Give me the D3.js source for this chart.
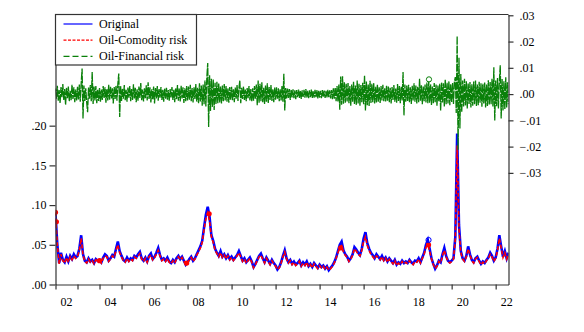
<!DOCTYPE html>
<html>
<head>
<meta charset="utf-8">
<script src="https://cdn.jsdelivr.net/npm/d3@7"></script>
<style>
  body { margin: 0; background: #fff; }
  text { font-family: "Liberation Serif", "Times New Roman", serif; font-size: 12px; fill: #000; }
  .axis path, .axis line { stroke: #333; stroke-width: 1.2; }
</style>
</head>
<body>
<div id="chart-div"></div>
<script>
// monthly values, starting Jan 2002
const startYear = 2002;
const endYear = 2022.583;

const original = [
  0.089, 0.05, 0.027, 0.04, 0.031, 0.028, 0.035, 0.029, 0.036, 0.032, 0.038, 0.034, // 2002
  0.036, 0.045, 0.062, 0.038, 0.03, 0.028, 0.033, 0.029, 0.031, 0.027, 0.032, 0.03,  // 2003
  0.031, 0.028, 0.034, 0.038, 0.036, 0.03, 0.033, 0.037, 0.035, 0.045, 0.054, 0.042, // 2004
  0.036, 0.031, 0.029, 0.034, 0.03, 0.033, 0.031, 0.036, 0.034, 0.038, 0.041, 0.033, // 2005
  0.03, 0.034, 0.029, 0.036, 0.039, 0.032, 0.035, 0.04, 0.046, 0.037, 0.031, 0.033,  // 2006
  0.03, 0.034, 0.029, 0.027, 0.031, 0.028, 0.033, 0.036, 0.032, 0.035, 0.03, 0.025,  // 2007
  0.028, 0.032, 0.035, 0.03, 0.033, 0.038, 0.043, 0.048, 0.055, 0.072, 0.088, 0.098, // 2008
  0.085, 0.062, 0.055, 0.045, 0.04, 0.036, 0.042, 0.035, 0.038, 0.033, 0.037, 0.032, // 2009
  0.035, 0.031, 0.034, 0.037, 0.042, 0.036, 0.03, 0.033, 0.028, 0.031, 0.034, 0.029, // 2010
  0.022, 0.026, 0.031, 0.036, 0.039, 0.033, 0.028, 0.034, 0.03, 0.026, 0.031, 0.027, // 2011
  0.024, 0.019, 0.022, 0.028, 0.036, 0.043, 0.033, 0.028, 0.031, 0.026, 0.029, 0.025, // 2012
  0.027, 0.03, 0.024, 0.028, 0.025, 0.029, 0.023, 0.026, 0.022, 0.027, 0.024, 0.021, // 2013
  0.025, 0.022, 0.024, 0.02, 0.023, 0.018, 0.021, 0.024, 0.028, 0.034, 0.042, 0.05,  // 2014
  0.054, 0.043, 0.038, 0.035, 0.03, 0.033, 0.038, 0.047, 0.044, 0.04, 0.037, 0.045,  // 2015
  0.058, 0.066, 0.052, 0.045, 0.04, 0.037, 0.033, 0.038, 0.035, 0.032, 0.036, 0.031, // 2016
  0.034, 0.029, 0.033, 0.03, 0.027, 0.031, 0.025, 0.028, 0.026, 0.03, 0.027, 0.029,  // 2017
  0.027, 0.031, 0.028, 0.026, 0.03, 0.029, 0.033, 0.028, 0.034, 0.04, 0.05, 0.056,   // 2018
  0.045, 0.033, 0.026, 0.02, 0.024, 0.03, 0.028, 0.038, 0.046, 0.036, 0.03, 0.028,   // 2019
  0.03, 0.033, 0.06, 0.19, 0.075, 0.042, 0.033, 0.03, 0.036, 0.048, 0.038, 0.031,    // 2020
  0.028, 0.033, 0.035, 0.03, 0.026, 0.029, 0.027, 0.031, 0.034, 0.04, 0.036, 0.03,   // 2021
  0.034, 0.045, 0.062, 0.048, 0.035, 0.042, 0.033, 0.04                              // 2022
];

const commodityRisk = [
  0.091, 0.05, 0.026, 0.038, 0.03, 0.027, 0.034, 0.028, 0.035, 0.031, 0.036, 0.033,
  0.035, 0.043, 0.058, 0.037, 0.029, 0.027, 0.032, 0.028, 0.03, 0.026, 0.031, 0.029,
  0.03, 0.027, 0.033, 0.036, 0.035, 0.029, 0.032, 0.036, 0.034, 0.043, 0.05, 0.04,
  0.035, 0.03, 0.028, 0.033, 0.029, 0.032, 0.03, 0.035, 0.033, 0.036, 0.039, 0.032,
  0.029, 0.033, 0.028, 0.035, 0.037, 0.031, 0.034, 0.038, 0.043, 0.036, 0.03, 0.032,
  0.029, 0.033, 0.028, 0.026, 0.03, 0.027, 0.032, 0.035, 0.031, 0.034, 0.029, 0.025,
  0.027, 0.031, 0.034, 0.029, 0.032, 0.037, 0.041, 0.046, 0.053, 0.069, 0.083, 0.09,
  0.08, 0.06, 0.053, 0.043, 0.039, 0.035, 0.04, 0.034, 0.037, 0.032, 0.036, 0.031,
  0.034, 0.03, 0.033, 0.036, 0.04, 0.035, 0.029, 0.032, 0.027, 0.03, 0.033, 0.028,
  0.021, 0.025, 0.03, 0.035, 0.037, 0.032, 0.027, 0.033, 0.029, 0.025, 0.03, 0.026,
  0.023, 0.019, 0.021, 0.027, 0.035, 0.041, 0.032, 0.027, 0.03, 0.025, 0.028, 0.024,
  0.026, 0.029, 0.023, 0.027, 0.024, 0.028, 0.022, 0.025, 0.021, 0.026, 0.023, 0.02,
  0.024, 0.021, 0.023, 0.019, 0.022, 0.018, 0.02, 0.023, 0.027, 0.033, 0.04, 0.047,
  0.049, 0.041, 0.037, 0.034, 0.029, 0.032, 0.037, 0.045, 0.042, 0.038, 0.036, 0.043,
  0.054, 0.06, 0.049, 0.043, 0.038, 0.035, 0.032, 0.036, 0.034, 0.031, 0.035, 0.03,
  0.033, 0.028, 0.032, 0.029, 0.026, 0.03, 0.024, 0.027, 0.025, 0.029, 0.026, 0.028,
  0.026, 0.03, 0.027, 0.025, 0.029, 0.028, 0.032, 0.027, 0.033, 0.038, 0.047, 0.05,
  0.042, 0.032, 0.025, 0.02, 0.023, 0.029, 0.027, 0.036, 0.043, 0.035, 0.029, 0.027,
  0.029, 0.032, 0.057, 0.175, 0.07, 0.04, 0.032, 0.029, 0.035, 0.045, 0.037, 0.03,
  0.027, 0.032, 0.034, 0.029, 0.025, 0.028, 0.026, 0.03, 0.033, 0.038, 0.035, 0.029,
  0.033, 0.043, 0.058, 0.046, 0.034, 0.04, 0.032, 0.039
];

// half-monthly values, right axis
const financialRisk = [
  .0021,-.0018,.0032,-.0025,.0015,-.0034,.0027,-.0012,.0038,-.0022,.0019,-.0041,.0024,-.0016,.0029,-.0027,.0012,-.0023,.0035,-.0019,.0026,-.0031,.0017,-.0024,
  .0028,-.0021,.0036,-.0029,.0041,.0097,-.0093,.0033,-.0026,.0022,-.0031,-.0069,.0025,-.0018,.0034,-.0027,.0084,-.0038,.0029,-.0024,.0031,-.0035,.0018,-.0026,
  .0023,-.0029,.0017,-.0022,.0031,-.0015,.0026,-.0033,.0019,-.0024,.0035,-.0021,.0028,-.0017,.0022,-.0036,.0027,-.0019,.0033,-.0025,.0039,.0078,-.0087,.0031,
  -.0026,.0021,-.0018,.0034,-.0023,.0016,-.0029,.0025,-.0014,.0031,-.0027,.0019,-.0022,.0037,-.0017,.0024,-.0031,.0018,-.0025,.0029,-.0015,.0042,-.0023,.0017,
  -.0028,.0022,-.0016,.0033,-.0024,.0045,-.0019,.0026,-.0032,.0018,-.0021,.0029,-.0036,.0023,-.0017,.0031,-.0025,.0019,-.0014,.0027,-.0022,.0016,-.0029,.0021,
  -.0018,.0024,-.0021,.0015,-.0026,.0019,-.0013,.0027,-.0022,.0017,-.0031,.0023,-.0019,.0034,-.0025,.0021,-.0028,.0032,-.0017,.0026,-.0034,.0022,-.0027,.0031,
  -.0024,.0029,-.0021,.0035,-.0027,.0023,-.0032,.0026,-.0019,.0038,-.0029,.0024,-.0035,.0041,-.0028,.0033,-.0044,.0037,-.0039,.0052,-.0047,.0061,.0118,-.0125,
  .0072,-.0064,.0058,-.0049,.0055,-.0061,.0043,-.0038,.0047,-.0035,.0041,-.0032,.0029,-.0036,.0033,-.0027,.0038,-.0024,.0031,-.0029,.0022,-.0033,.0027,-.0021,
  .0028,-.0023,.0019,-.0031,.0025,-.0018,.0034,-.0026,.0021,.0052,-.0035,.0024,-.0019,.0029,-.0022,.0017,-.0027,.0023,-.0016,.0031,-.0024,.0019,-.0028,.0022,
  -.0025,.0031,-.0019,.0036,-.0042,.0052,-.0033,.0039,-.0027,.0045,-.0031,.0024,-.0038,.0033,-.0029,.0041,-.0035,.0027,-.0022,.0034,-.0026,.0019,-.0031,.0025,
  -.0021,.0026,-.0018,.0022,-.0027,.0019,-.0024,.0031,-.0029,.0077,-.0062,.0023,-.0017,.0021,-.0015,.0019,-.0022,.0016,-.0013,.0018,-.0016,.0014,-.0019,.0015,
  -.0012,.0017,-.0015,.0013,-.0018,.0014,-.0011,.0016,-.0014,.0019,-.0013,.0012,-.0016,.0014,-.0012,.0017,-.0015,.0011,-.0014,.0016,-.0012,.0015,-.0017,.0013,
  -.0014,.0012,-.0016,.0015,-.0011,.0013,-.0015,.0012,-.0013,.0016,-.0012,.0014,-.0017,.0015,-.0019,.0022,-.0018,.0025,-.0027,.0031,-.0029,.0036,-.006,.0067,
  -.0041,.0068,-.0037,.0045,-.0033,.0039,-.0028,.0042,-.0035,.0031,-.0044,.0036,-.0029,.0047,-.0038,.0033,-.0041,.0052,-.0036,.0039,-.0045,.0034,-.0031,.0043,
  -.0039,.0071,-.0062,.0048,-.0042,.0037,-.0045,.0051,-.0034,.0039,-.0031,.0042,-.0036,.0028,-.0033,.0037,-.0029,.0026,-.0034,.0031,-.0024,.0035,-.0027,.0022,
  -.0028,.0033,-.0025,.0029,-.0031,.0024,-.0036,.0027,-.0022,.0034,-.0029,.0021,-.0033,.0038,-.0026,.0031,-.0035,.0028,-.0024,.0084,-.0081,.0036,-.0029,.0033,
  -.0027,.0035,-.0031,.0026,-.0038,.0032,-.0024,.0041,-.0029,.0033,-.0036,.0028,-.0031,.0058,-.0025,.0034,-.0039,.0029,-.0027,.0036,-.0032,.0044,-.0035,.0048,
  -.0033,.0038,-.0041,.0029,-.0035,.0042,-.0031,.0036,-.0044,.0033,-.0028,.0039,-.0062,.0045,-.0032,.0041,-.0048,.0056,-.0039,.0043,-.0036,.0049,-.0042,.0038,
  -.0031,.0042,-.0038,.0047,.0065,-.0072,.0221,-.0212,.0138,-.0131,.0076,-.0069,.0052,-.0047,.0058,-.0043,.0049,-.0055,.0041,-.0038,.0046,-.0051,.0037,-.0044,
  .0048,-.0039,.0052,-.0045,.0036,-.0042,.0047,-.0033,.0041,-.0048,.0039,-.0036,.0044,-.0051,.0038,-.0045,.0053,-.0041,.0046,-.0039,.0058,-.0047,.0102,-.0101,
  .0052,-.0046,.0061,-.0055,.0048,.0110,-.0093,.0057,-.0062,.0049,-.0058,.0064,-.0051,.0045,-.0039
];

// odd observations drawn with a symbol
const redMarkYears = [2002.0, 2002.04, 2004.0, 2007.96, 2008.98, 2014.96, 2018.95];
const redMarkValues = [0.091, 0.079, 0.03, 0.027, 0.089, 0.046, 0.05];
const blueMarkYears = [2018.95];
const blueMarkValues = [0.056];
const greenMarkYears = [2018.97];
const greenMarkValues = [0.0056];

const yearTicks = d3.range(2002, 2023);
const yearLabels = ["02", "04", "06", "08", "10", "12", "14", "16", "18", "20", "22"];
const leftTicks = [0, 0.05, 0.10, 0.15, 0.20];
const rightTicks = [-0.03, -0.02, -0.01, 0, 0.01, 0.02, 0.03];
const legendNames = ["Original", "Oil-Comodity risk", "Oil-Financial risk"];

const svgDims = { width: 584, height: 332 };
const margin = { top: 14.5, right: 75.5, bottom: 47.5, left: 55.5 };

const svg = d3.select("#chart-div")
    .append("svg")
    .attr("width", svgDims.width)
    .attr("height", svgDims.height);

const width = svgDims.width - margin.left - margin.right;
const height = svgDims.height - margin.top - margin.bottom;
const g = svg.append("g").attr("transform", "translate(" + margin.left + "," + margin.top + ")");

const xScale = d3.scaleLinear().domain([startYear, endYear]).range([0, width]);
const yLeft = d3.scaleLinear().domain([0, 0.34]).range([height, 0]);
const yRight = d3.scaleLinear().domain([-0.0725, 0.0303]).range([height, 0]);

const fmt = d => d3.format(".2f")(d).replace("0.", ".");

g.append("clipPath").attr("id", "plot-clip")
    .append("rect").attr("width", width).attr("height", height);

// Lines
const monthly = (v, i) => ({ x: startYear + i / 12, y: v });
const halfMonthly = (v, i) => ({ x: startYear + i / 24, y: v });

const lineLeft = d3.line().x(d => xScale(d.x)).y(d => yLeft(d.y));
const lineRight = d3.line().x(d => xScale(d.x)).y(d => yRight(d.y));

const plot = g.append("g").attr("clip-path", "url(#plot-clip)");

plot.append("path")
    .datum(original.map(monthly))
    .attr("d", lineLeft)
    .attr("fill", "none")
    .attr("stroke", "#0000ff")
    .attr("stroke-width", 2.6);

plot.append("path")
    .datum(commodityRisk.map(monthly))
    .attr("d", lineLeft)
    .attr("fill", "none")
    .attr("stroke", "#ff0000")
    .attr("stroke-width", 1.6)
    .attr("stroke-dasharray", "4,2");

plot.selectAll(".red-mark").data(redMarkYears).enter().append("circle")
    .attr("cx", d => xScale(d))
    .attr("cy", (d, i) => yLeft(redMarkValues[i]))
    .attr("r", 2.6)
    .attr("fill", "#ff0000");

plot.selectAll(".blue-mark").data(blueMarkYears).enter().append("circle")
    .attr("cx", d => xScale(d))
    .attr("cy", (d, i) => yLeft(blueMarkValues[i]))
    .attr("r", 2.6)
    .attr("fill", "none")
    .attr("stroke", "#0000ff");

plot.append("path")
    .datum(financialRisk.map(halfMonthly))
    .attr("d", lineRight)
    .attr("fill", "none")
    .attr("stroke", "#0a800a")
    .attr("stroke-width", 1.3)
    .attr("stroke-dasharray", "8,1");

plot.selectAll(".green-mark").data(greenMarkYears).enter().append("circle")
    .attr("cx", d => xScale(d))
    .attr("cy", (d, i) => yRight(greenMarkValues[i]))
    .attr("r", 2.6)
    .attr("fill", "none")
    .attr("stroke", "#0a800a");

// Frame top
g.append("line")
    .attr("x1", 0).attr("x2", width)
    .attr("y1", 0).attr("y2", 0)
    .attr("stroke", "#333").attr("stroke-width", 1.2);

// Left axis
g.append("g").attr("class", "axis")
    .call(d3.axisLeft(yLeft).tickValues(leftTicks).tickFormat(fmt).tickSize(6).tickSizeOuter(0).tickPadding(3))
    .call(a => a.selectAll("text").attr("fill", "#000").style("font-size", "12px").style("font-family", "Liberation Serif"));

// Right axis
g.append("g").attr("class", "axis")
    .attr("transform", "translate(" + width + ",0)")
    .call(d3.axisRight(yRight).tickValues(rightTicks).tickFormat(fmt).tickSize(5).tickSizeOuter(0).tickPadding(6))
    .call(a => a.selectAll("text").attr("fill", "#000").style("font-size", "12px").style("font-family", "Liberation Serif"));

// X axis ticks each year, labels in the middle of even years
g.append("g").attr("class", "axis")
    .attr("transform", "translate(0," + height + ")")
    .call(d3.axisBottom(xScale).tickValues(yearTicks).tickFormat("").tickSize(5).tickSizeOuter(0));

g.selectAll(".year-label").data(yearLabels).enter().append("text")
    .attr("x", d => xScale(2000 + (+d) + 0.5))
    .attr("y", height + 21)
    .attr("text-anchor", "middle")
    .text(d => d);

// Legend
const legend = g.append("g");
legend.append("rect")
    .attr("x", 0).attr("y", 0)
    .attr("width", 141).attr("height", 50.5)
    .attr("fill", "#fff")
    .attr("stroke", "#333").attr("stroke-width", 1.2);

const legendColors = ["#0000ff", "#ff0000", "#0a800a"];
const legendDash = [null, "3,1.5", "6,3"];

legend.selectAll(".legend-line").data(legendNames).enter().append("line")
    .attr("x1", 8).attr("x2", 37)
    .attr("y1", (d, i) => 9.5 + i * 16.2)
    .attr("y2", (d, i) => 9.5 + i * 16.2)
    .attr("stroke", (d, i) => legendColors[i])
    .attr("stroke-width", 1.2)
    .attr("stroke-dasharray", (d, i) => legendDash[i]);

legend.selectAll(".legend-text").data(legendNames).enter().append("text")
    .attr("x", 43.5)
    .attr("y", (d, i) => 13.5 + i * 16.2)
    .text(d => d);
</script>
</body>
</html>
